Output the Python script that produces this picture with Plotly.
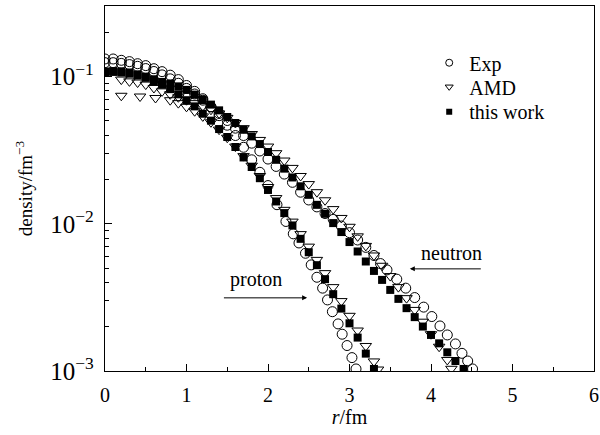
import numpy as np
import plotly.graph_objects as go

# ---------------- data (log10 of density) ----------------
r_n_work = [0.0,0.1,0.2,0.3,0.4,0.5,0.6,0.7,0.8,0.9,1.0,1.1,1.2,1.3,1.4,1.5,1.6,1.7,1.8,1.9,
            2.0,2.1,2.2,2.3,2.4,2.5,2.6,2.7,2.8,2.9,3.0,3.1,3.2,3.3,3.4,3.5,3.6,3.7,3.8,3.9,
            4.0,4.1,4.2,4.3,4.4]
lg_n_work = [-0.965,-0.962,-0.964,-0.972,-0.985,-1.000,-1.018,-1.036,-1.048,-1.066,
             -1.090,-1.122,-1.156,-1.190,-1.229,-1.274,-1.315,-1.361,-1.406,-1.458,
             -1.512,-1.565,-1.625,-1.685,-1.745,-1.803,-1.871,-1.932,-1.995,-2.056,
             -2.124,-2.188,-2.256,-2.320,-2.381,-2.449,-2.510,-2.573,-2.634,-2.698,
             -2.755,-2.812,-2.873,-2.932,-2.986]

r_p_work = [0.0,0.1,0.2,0.3,0.4,0.5,0.6,0.7,0.8,0.9,1.0,1.1,1.2,1.3,1.4,1.5,1.6,1.7,1.8,1.9,
            2.0,2.1,2.2,2.3,2.4,2.5,2.6,2.7,2.8,2.9,3.0,3.1,3.2,3.3]
lg_p_work = [-0.970,-0.968,-0.972,-0.980,-0.992,-1.008,-1.030,-1.055,-1.085,-1.120,
             -1.160,-1.202,-1.252,-1.299,-1.356,-1.410,-1.478,-1.549,-1.614,-1.690,
             -1.770,-1.848,-1.927,-2.011,-2.102,-2.193,-2.281,-2.376,-2.478,-2.576,
             -2.676,-2.773,-2.882,-2.986]

r_p_exp = [0.0,0.1,0.2,0.3,0.4,0.5,0.6,0.7,0.8,0.9,1.0,1.1,1.2,1.3,1.4,1.5,1.6,1.7,1.8,1.9,
           2.0,2.11,2.22,2.31,2.38,2.46,2.53,2.60,2.67,2.73,2.79,2.86,2.91,2.97,3.03,3.08]
lg_p_exp = [-0.880,-0.880,-0.889,-0.898,-0.912,-0.925,-0.946,-0.966,-0.990,-1.020,
            -1.060,-1.100,-1.150,-1.205,-1.265,-1.330,-1.400,-1.480,-1.565,-1.650,
            -1.740,-1.870,-1.984,-2.068,-2.130,-2.200,-2.279,-2.363,-2.437,-2.517,
            -2.597,-2.680,-2.750,-2.827,-2.909,-2.986]

r_n_exp = [0.0,0.1,0.2,0.3,0.4,0.5,0.6,0.7,0.8,0.9,1.0,1.1,1.2,1.3,1.4,1.5,1.6,1.7,1.8,1.9,
           2.0,2.1,2.2,2.3,2.4,2.5,2.6,2.7,2.8,2.9,3.0,3.1,3.2,3.3,3.38,3.46,3.58,3.69,3.80,
           3.91,4.01,4.11,4.20,4.30,4.38,4.45,4.51]
lg_n_exp = [-0.905,-0.905,-0.910,-0.918,-0.930,-0.945,-0.965,-0.988,-1.015,-1.045,
            -1.080,-1.118,-1.160,-1.205,-1.250,-1.298,-1.350,-1.400,-1.452,-1.505,
            -1.560,-1.610,-1.662,-1.718,-1.785,-1.838,-1.885,-1.930,-1.970,-2.015,
            -2.060,-2.110,-2.160,-2.215,-2.270,-2.313,-2.376,-2.437,-2.501,
            -2.566,-2.630,-2.694,-2.755,-2.816,-2.880,-2.932,-2.986]

r_p_amd = [0.2,0.43,0.62,0.8,0.9,1.0,1.1,1.2,1.3,1.4,1.5,1.6,1.7,1.8,1.9,2.0,2.1,2.2,2.3,
           2.4,2.5,2.6,2.7,2.8,2.9,3.0,3.1,3.2,3.3,3.35]
lg_p_amd = [-1.130,-1.135,-1.145,-1.160,-1.180,-1.205,-1.235,-1.270,-1.310,-1.360,
            -1.415,-1.475,-1.540,-1.605,-1.675,-1.750,-1.825,-1.905,-1.985,
            -2.070,-2.155,-2.245,-2.335,-2.430,-2.525,-2.625,-2.725,-2.830,-2.935,-2.990]

r_n_amd = [0.2,0.3,0.4,0.5,0.6,0.7,0.8,0.9,1.0,1.1,1.2,1.3,1.4,1.5,1.6,1.7,1.8,1.9,2.0,
           2.1,2.2,2.3,2.4,2.5,2.6,2.7,2.8,2.9,3.0,3.1,3.2,3.3,3.4,3.5,3.6,3.7,3.8,3.9,
           4.0,4.1,4.2,4.25]
lg_n_amd = [-1.020,-1.032,-1.040,-1.054,-1.077,-1.100,-1.120,-1.140,-1.160,-1.180,
            -1.200,-1.225,-1.250,-1.280,-1.315,-1.350,-1.390,-1.430,-1.475,
            -1.520,-1.570,-1.620,-1.675,-1.730,-1.785,-1.840,-1.900,-1.960,-2.020,
            -2.085,-2.150,-2.215,-2.285,-2.355,-2.430,-2.505,-2.585,-2.665,
            -2.750,-2.835,-2.925,-2.985]

legend_names = ["Exp", "AMD", "this work"]
annot_texts = ["proton", "neutron"]

# ---------------- figure ----------------
FONT = "Liberation Serif"
BLACK = "#000000"

def dens(lg):
    return np.power(10.0, np.array(lg))

fig = go.Figure()

exp_marker = dict(symbol="circle-open", size=10, color=BLACK, line=dict(width=1, color=BLACK))
amd_marker = dict(symbol="triangle-down-open", size=10, color=BLACK, line=dict(width=1, color=BLACK))
work_marker = dict(symbol="square", size=8, color=BLACK, line=dict(width=0))

for rr, lg, mk in [(r_p_exp, lg_p_exp, exp_marker), (r_n_exp, lg_n_exp, exp_marker),
                   (r_p_amd, lg_p_amd, amd_marker), (r_n_amd, lg_n_amd, amd_marker),
                   (r_p_work, lg_p_work, work_marker), (r_n_work, lg_n_work, work_marker)]:
    fig.add_trace(go.Scatter(x=rr, y=dens(lg), mode="markers", marker=mk, showlegend=False,
                             hoverinfo="x+y"))

# legend-only entries (smaller symbols, each in its own legend box for exact spacing)
leg_markers = [
    dict(symbol="circle-open", size=7, color=BLACK, line=dict(width=1, color=BLACK)),
    dict(symbol="triangle-down-open", size=7, color=BLACK, line=dict(width=1, color=BLACK)),
    dict(symbol="square", size=6, color=BLACK, line=dict(width=0)),
]
leg_ids = ["legend", "legend2", "legend3"]
for name, mk, lid in zip(legend_names, leg_markers, leg_ids):
    fig.add_trace(go.Scatter(x=[None], y=[None], mode="markers", marker=mk, name=name,
                             showlegend=True, legend=lid))

# labels and arrows
fig.add_annotation(x=1.85, y=-2.381, xref="x", yref="y", text=annot_texts[0], showarrow=False,
                   font=dict(family=FONT, size=20, color=BLACK))
fig.add_annotation(x=2.48, y=-2.503, ax=1.41, ay=-2.503, xref="x", yref="y", axref="x", ayref="y",
                   text=" ", showarrow=True, arrowhead=2, arrowsize=1, arrowwidth=1, arrowcolor=BLACK,
                   standoff=0, startstandoff=0)
fig.add_annotation(x=4.25, y=-2.197, xref="x", yref="y", text=annot_texts[1], showarrow=False,
                   font=dict(family=FONT, size=20, color=BLACK))
fig.add_annotation(x=3.74, y=-2.306, ax=4.66, ay=-2.306, xref="x", yref="y", axref="x", ayref="y",
                   text=" ", showarrow=True, arrowhead=2, arrowsize=1, arrowwidth=1, arrowcolor=BLACK,
                   standoff=0, startstandoff=0)

leg_common = dict(x=0.663, xanchor="left", yanchor="top", bgcolor="rgba(0,0,0,0)",
                  font=dict(family=FONT, size=20, color=BLACK))
fig.update_layout(
    width=600, height=435,
    margin=dict(l=105, r=6, t=6, b=64),
    paper_bgcolor="white", plot_bgcolor="white",
    font=dict(family=FONT, size=20, color=BLACK),
    showlegend=True,
    legend=dict(y=0.898, **leg_common),
    legend2=dict(y=0.832, **leg_common),
    legend3=dict(y=0.764, **leg_common),
)
fig.update_xaxes(
    range=[0, 6], dtick=1, tick0=0, showgrid=False, zeroline=False, automargin=False,
    showline=True, linecolor=BLACK, linewidth=1.3, mirror=True,
    ticks="inside", ticklen=7, tickwidth=1.3, tickcolor=BLACK, ticklabelstandoff=6,
    minor=dict(ticks="inside", ticklen=4, dtick=0.5, tickcolor=BLACK, tickwidth=1.3, showgrid=False),
    tickfont=dict(family=FONT, size=20, color=BLACK),
    title=dict(text="<i>r</i>/fm", font=dict(family=FONT, size=20, color=BLACK), standoff=4),
)
fig.update_yaxes(
    type="log", range=[-3, -0.52], dtick=1, showgrid=False, zeroline=False, automargin=False,
    exponentformat="power", showexponent="all",
    showline=True, linecolor=BLACK, linewidth=1.3, mirror=True,
    ticks="inside", ticklen=7, tickwidth=1.3, tickcolor=BLACK, ticklabelstandoff=6,
    minor=dict(ticks="inside", ticklen=4, dtick="D1", tickcolor=BLACK, tickwidth=1.3, showgrid=False),
    tickfont=dict(family=FONT, size=20, color=BLACK),
    title=dict(text="density/fm<sup>−3</sup>", font=dict(family=FONT, size=19, color=BLACK), standoff=12),
)

fig.write_html("out.html", config={"displayModeBar": False},
               post_script="document.body.style.margin='0';")
